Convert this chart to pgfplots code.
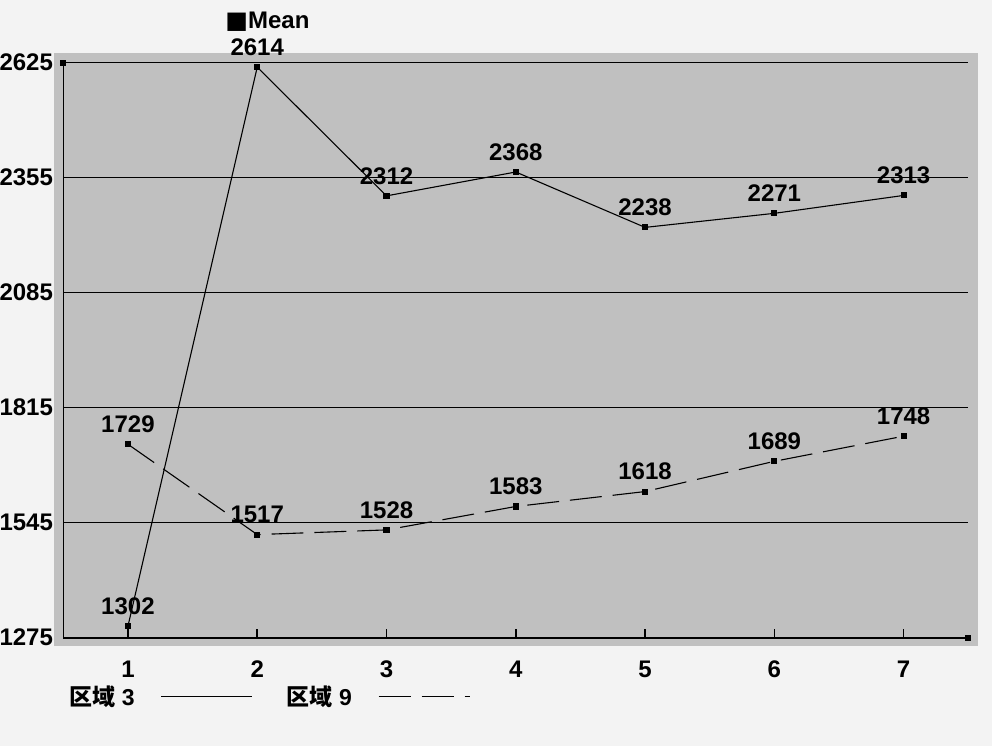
\documentclass[border=0pt]{standalone}
\usepackage{pgfplots}
\pgfplotsset{compat=1.18}
\usepackage{fontspec}
\setmainfont{Liberation Sans}
\newfontfamily\cjk{Noto Sans CJK SC}
\newfontfamily\dejavu{DejaVu Sans}
\definecolor{bg}{HTML}{F3F3F3}
\definecolor{panel}{HTML}{C0C0C0}
\begin{document}
\begin{tikzpicture}
\useasboundingbox (0pt,0pt) rectangle (496pt,373pt);
\fill[bg] (0pt,0pt) rectangle (496pt,373pt);
\fill[panel] (27pt,50pt) rectangle (489pt,346.5pt);
\begin{axis}[
  at={(31.65pt,54.15pt)}, anchor=south west,
  scale only axis, width=452.5pt, height=287.6pt,
  xmin=0.5, xmax=7.5, ymin=1275, ymax=2625,
  clip=false,
  axis lines*=left,
  axis line style={line width=0.8pt, -},
  xtick={1,2,3,4,5,6,7},
  ytick={1275,1545,1815,2085,2355,2625},
  scaled y ticks=false,
  /pgf/number format/1000 sep={},
  /pgf/number format/assume math mode=true,
  tick align=inside,
  major tick length=4.5pt,
  xtick style={black, line width=0.8pt},
  ytick style={draw=none},
  ymajorgrids,
  grid style={black, line width=0.8pt},
  tick label style={font=\fontsize{12}{14}\selectfont\bfseries},
  xticklabel style={anchor=north, inner sep=0pt, yshift=-11.5pt},
  yticklabel style={anchor=east, inner sep=0pt, xshift=-5pt},
  nodes near coords,
  every node near coord/.append style={font=\fontsize{12}{14}\selectfont\bfseries, anchor=south, inner sep=0pt, yshift=5.5pt, black},
  legend plot pos=right,
  legend columns=2,
  legend image code/.code={\draw[#1] (0pt,0pt) -- (45.5pt,0pt);},
  legend style={at={(0.002,-0.103)}, anchor=west, draw=none, fill=none, inner sep=0pt,
    font=\fontsize{11.5}{13}\selectfont\bfseries,
    /tikz/every odd column/.append style={column sep=11pt},
    /tikz/every even column/.append style={column sep=15pt}},
]
\addplot[black, line width=0.55pt, mark=square*, mark size=1.25pt, mark options={solid}]
  coordinates {(1,1302) (2,2614) (3,2312) (4,2368) (5,2238) (6,2271) (7,2313)};
\addlegendentry{{\cjk\bfseries 区域} 3}
\addplot[black, line width=0.55pt, mark=square*, mark size=1.25pt, mark options={solid},
  dash pattern=on 16pt off 5.5pt]
  coordinates {(1,1729) (2,1517) (3,1528) (4,1583) (5,1618) (6,1689) (7,1748)};
\addlegendentry{{\cjk\bfseries 区域} 9}
\addplot[only marks, black, mark=square*, mark size=1.25pt, nodes near coords=, forget plot]
  coordinates {(0.5,2625) (7.5,1275)};
\end{axis}
\node[anchor=west, inner sep=0pt, font=\fontsize{12}{14}\selectfont\bfseries] at (112.5pt,362pt) {{\dejavu ■}Mean};
\end{tikzpicture}
\end{document}
